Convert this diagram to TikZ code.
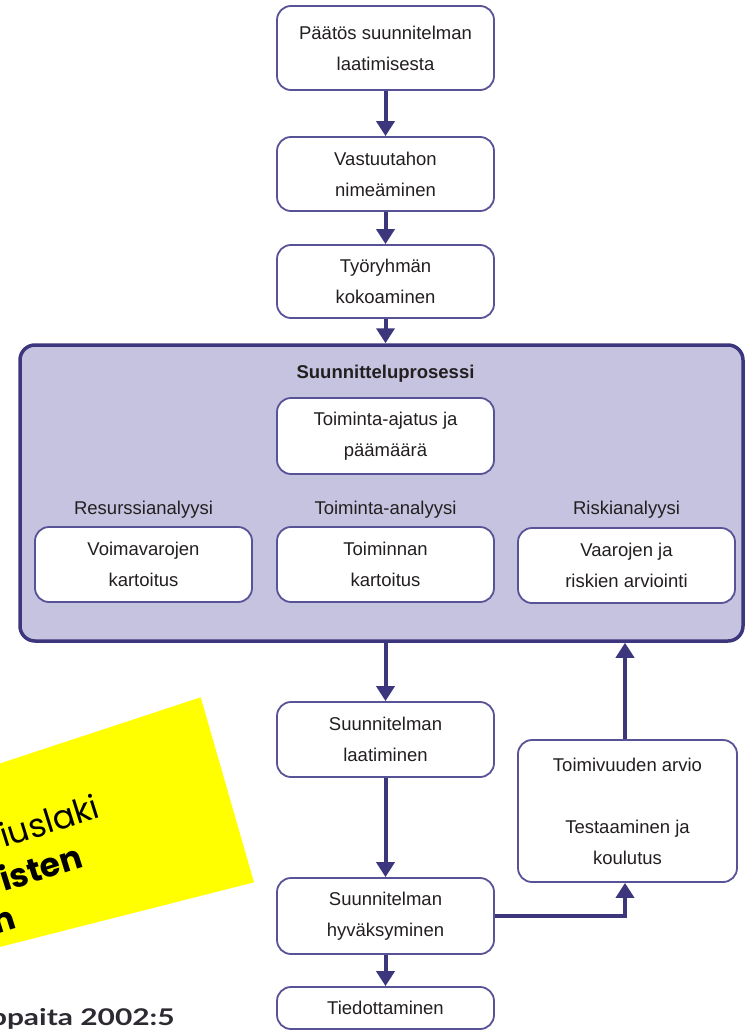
\documentclass[tikz,border=0pt]{standalone}
\usepackage{fontspec}
\setmainfont{Liberation Sans}
\newfontfamily\yelfont{Poppins}
\newfontfamily\srcfont{Lato}
\usetikzlibrary{arrows.meta}
\definecolor{bordc}{RGB}{60,54,124}
\definecolor{boxc}{RGB}{88,82,150}
\definecolor{procfill}{RGB}{197,195,223}
\definecolor{txtc}{RGB}{35,31,32}
\definecolor{yelc}{RGB}{255,255,0}
\tikzset{
  box/.style={draw=boxc, line width=1.8pt, fill=white, rounded corners=14pt,
    minimum width=217pt, align=center, text=txtc,
    font=\fontsize{18.5}{31}\selectfont, inner sep=0pt},
  lbl/.style={text=txtc, font=\fontsize{18.5}{22}\selectfont, inner sep=0pt},
  arr/.style={draw=bordc, line width=4pt, -{Triangle[width=18pt,length=15pt]}},
  ytxt/.style={anchor=base west, rotate=17.5, text=black, inner sep=0pt}
}
\begin{document}
\begin{tikzpicture}[x=1pt,y=-1pt]
\useasboundingbox (0,0) rectangle (745,1032);
% yellow note (cut at the page edge)
\fill[yelc] (200.7,697.3) -- (254,882.3) -- (-20,952) -- (-20,770) -- cycle;
\node[ytxt, font=\yelfont\fontsize{33}{33}\selectfont] (y1) at (4,848) {iuslaki};
\node[ytxt, font=\yelfont\bfseries\fontsize{33}{33}\selectfont] (y2) at (4,892) {isten};
\node[ytxt, font=\yelfont\bfseries\fontsize{33}{33}\selectfont] (y3) at (-4,935) {n};
\node[anchor=base east, inner sep=0pt, xscale=1.3, text={rgb,255:red,45;green,42;blue,50},
  font=\srcfont\bfseries\fontsize{23}{23}\selectfont] (src) at (175,1025) {ppaita 2002:5};
% process frame
\node[draw=bordc, line width=3.5pt, fill=procfill, rounded corners=15pt,
  minimum width=723pt, minimum height=296pt, inner sep=0pt] (proc) at (381.5,493) {};
\node[text=txtc, font=\bfseries\fontsize{18.5}{22}\selectfont, inner sep=0pt] (ptitle) at (385.5,374) {Suunnitteluprosessi};
% boxes
\node[box, minimum height=84pt] (b1) at (385.5,48) {Päätös suunnitelman\\laatimisesta};
\node[box, minimum height=74pt] (b2) at (385.5,174) {Vastuutahon\\nimeäminen};
\node[box, minimum height=73pt] (b3) at (385.5,281.5) {Työryhmän\\kokoaminen};
\node[box, minimum height=76pt] (b4) at (385.5,436) {Toiminta-ajatus ja\\päämäärä};
\node[box, minimum height=75pt] (r1) at (143.5,564.5) {Voimavarojen\\kartoitus};
\node[box, minimum height=75pt] (r2) at (385.5,564.5) {Toiminnan\\kartoitus};
\node[box, minimum height=75pt] (r3) at (626.5,565.5) {Vaarojen ja\\riskien arviointi};
\node[lbl] (l1) at (143.5,510) {Resurssianalyysi};
\node[lbl] (l2) at (385.5,510) {Toiminta-analyysi};
\node[lbl] (l3) at (626.5,510) {Riskianalyysi};
\node[box, minimum height=75pt] (b5) at (385.5,739.5) {Suunnitelman\\laatiminen};
\node[box, minimum height=76pt] (b6) at (385.5,916) {Suunnitelman\\hyväksyminen};
\node[box, minimum height=42pt] (b7) at (385.5,1008) {Tiedottaminen};
\node[box, minimum width=219pt, minimum height=142pt] (t1) at (627.5,811)
  {Toimivuuden arvio\\[31pt]Testaaminen ja\\koulutus};
% connectors
\draw[arr] (b1) -- (b2);
\draw[arr] (b2) -- (b3);
\draw[arr] (b3) -- (proc.north -| b3);
\draw[arr] (proc.south -| b5) -- (b5);
\draw[arr] (b5) -- (b6);
\draw[arr] (b6) -- (b7);
\coordinate (tx) at (625,0);
\draw[arr] (b6.east) -| (t1.south -| tx);
\draw[arr] (t1.north -| tx) -- (proc.south -| tx);
\end{tikzpicture}
\end{document}
